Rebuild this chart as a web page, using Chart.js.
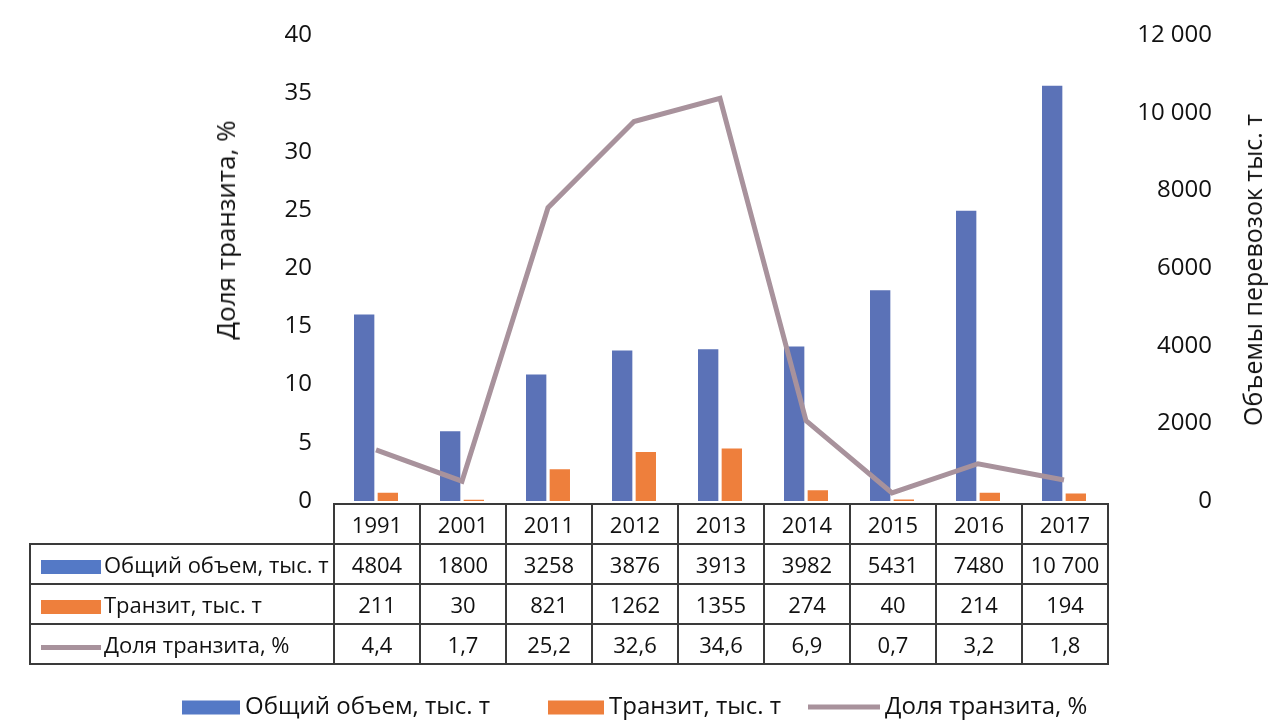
<!DOCTYPE html>
<html>
<head>
<meta charset="utf-8">
<script src="https://cdn.jsdelivr.net/npm/chart.js@4"></script>
<style>
  body { margin: 0; background: #fff; font-family: "Open Sans", sans-serif; color: #111; }
  #wrap { position: relative; width: 1280px; height: 720px; overflow: hidden; }
  .ttl { position: absolute; white-space: nowrap; transform: translate(-50%, -50%) rotate(-90deg); }
  #tbl { position: absolute; left: 29px; top: 503px; border-collapse: collapse; table-layout: fixed; font-size: 22px; }
  #tbl td { border: 2px solid #3a3a3a; text-align: center; padding: 0; height: 38px; }
  #tbl td.lbl { text-align: left; white-space: nowrap; }
  #tbl td.blank { border-top: none; border-left: none; }
  .sw { display: inline-block; vertical-align: middle; margin: 0 3px 0 10px; }
  .leg { position: absolute; top: 704px; transform: translateY(-50%); font-size: 24px; white-space: nowrap; }
  .leg .sw { margin: 0 5px 0 0; }
</style>
</head>
<body>
<div id="wrap">
  <canvas id="chart" width="1280" height="720"></canvas>
  <div class="ttl" style="left:225px; top:230px; font-size:26px;">Доля транзита, %</div>
  <div class="ttl" style="left:1252px; top:270px; font-size:25px;">Объемы перевозок тыс. т</div>
  <table id="tbl"></table>
  <div id="legend"></div>
</div>
<script>
const years = ["1991", "2001", "2011", "2012", "2013", "2014", "2015", "2016", "2017"];
const totalVolume = [4804, 1800, 3258, 3876, 3913, 3982, 5431, 7480, 10700];
const transitVolume = [211, 30, 821, 1262, 1355, 274, 40, 214, 194];
const transitShare = [4.4, 1.7, 25.2, 32.6, 34.6, 6.9, 0.7, 3.2, 1.8];
const tableText = {
  total: ["4804", "1800", "3258", "3876", "3913", "3982", "5431", "7480", "10 700"],
  transit: ["211", "30", "821", "1262", "1355", "274", "40", "214", "194"],
  share: ["4,4", "1,7", "25,2", "32,6", "34,6", "6,9", "0,7", "3,2", "1,8"],
};

const blue = "#5b72b7";
const blueSwatch = "#5479c6";
const orange = "#ee7f3c";
const mauve = "#a8929c";

function swatch(kind, w) {
  if (kind === "line") return '<span class="sw" style="width:' + w + 'px;height:5px;background:' + mauve + '"></span>';
  return '<span class="sw" style="width:' + w + 'px;height:14px;background:' + kind + '"></span>';
}

const series = [
  { name: "Общий объем, тыс. т", kind: blueSwatch, key: "total" },
  { name: "Транзит, тыс. т", kind: orange, key: "transit" },
  { name: "Доля транзита, %", kind: "line", key: "share" },
];

// data table under the plot
const tbl = document.getElementById("tbl");
let html = '<colgroup><col style="width:304px">' + years.map(() => '<col style="width:86px">').join("") + "</colgroup>";
html += '<tr><td class="blank"></td>' + years.map((y) => "<td>" + y + "</td>").join("") + "</tr>";
series.forEach((s) => {
  html += '<tr><td class="lbl">' + swatch(s.kind, 60) + s.name + "</td>" + tableText[s.key].map((v) => "<td>" + v + "</td>").join("") + "</tr>";
});
tbl.innerHTML = html;

// bottom legend
const legendPos = [182, 548, 808];
const legendW = [58, 56, 72];
document.getElementById("legend").innerHTML = series.map((s, i) =>
  '<div class="leg" style="left:' + legendPos[i] + 'px">' + swatch(s.kind, legendW[i]) + s.name + "</div>"
).join("");

const tickFont = { family: "Open Sans", size: 24 };

new Chart(document.getElementById("chart"), {
  data: {
    labels: years,
    datasets: [
      { type: "line", data: transitShare, yAxisID: "yPct", borderColor: mauve, borderWidth: 5, pointRadius: 0, tension: 0, order: 0 },
      { type: "bar", data: totalVolume, yAxisID: "yVol", backgroundColor: blue, order: 1, categoryPercentage: 0.55, barPercentage: 0.86 },
      { type: "bar", data: transitVolume, yAxisID: "yVol", backgroundColor: orange, order: 1, categoryPercentage: 0.55, barPercentage: 0.86 },
    ],
  },
  options: {
    responsive: false,
    animation: false,
    devicePixelRatio: 1,
    layout: { padding: { top: 31, bottom: 219, left: 0, right: 68 } },
    plugins: { legend: { display: false }, tooltip: { enabled: false } },
    scales: {
      x: { display: false, offset: true },
      yPct: {
        position: "left",
        min: 0, max: 40,
        ticks: { stepSize: 5, font: tickFont, color: "#111", padding: 21 },
        grid: { display: false, drawTicks: false },
        border: { display: false },
        afterFit: (s) => { s.width = 333; },
      },
      yVol: {
        position: "right",
        min: 0, max: 12000,
        ticks: {
          stepSize: 2000, font: tickFont, color: "#111", padding: 21, crossAlign: "far",
          callback: (v) => (v >= 10000 ? String(v).replace(/(\d)(\d{3})$/, "$1 $2") : String(v)),
        },
        grid: { display: false, drawTicks: false },
        border: { display: false },
        afterFit: (s) => { s.width = 105; },
      },
    },
  },
});
</script>
</body>
</html>
